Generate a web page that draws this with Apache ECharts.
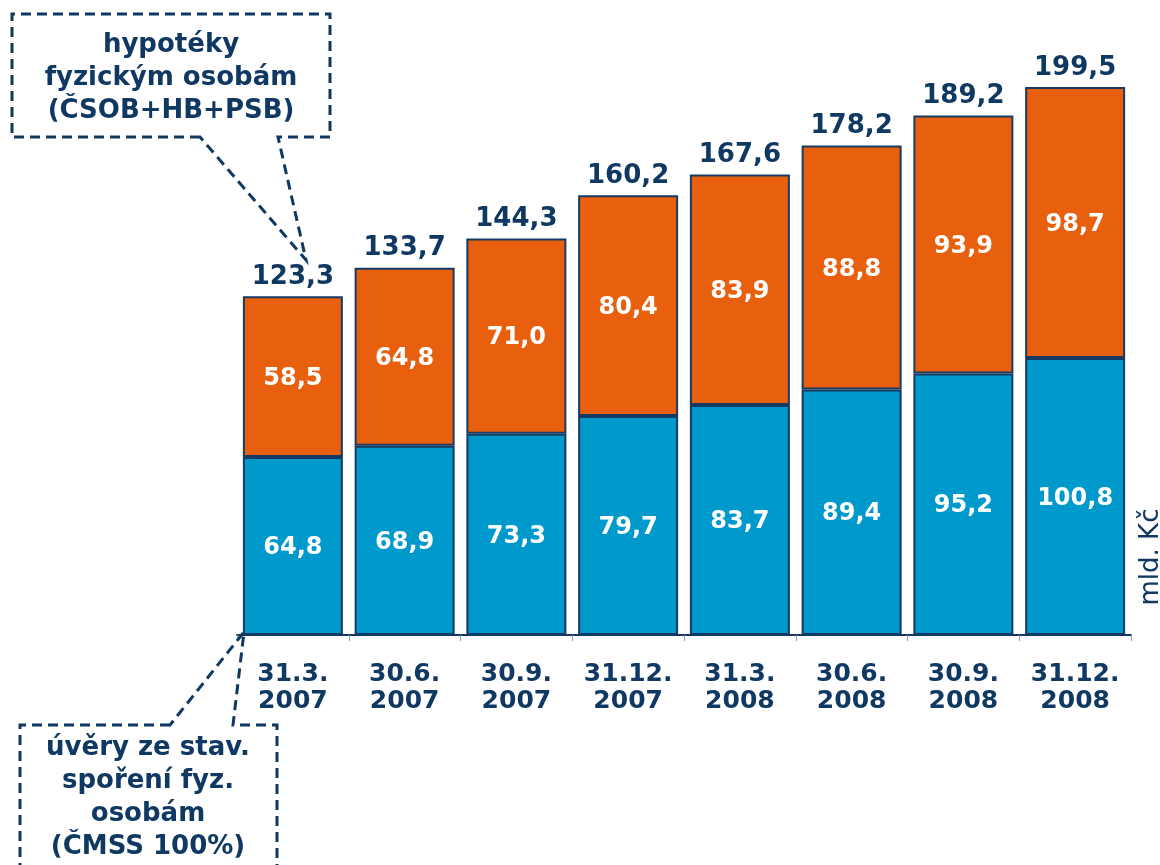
<!DOCTYPE html>
<html>
<head>
<meta charset="utf-8">
<script src="https://cdn.jsdelivr.net/npm/echarts@6/dist/echarts.min.js"></script>
<style>
  html, body { margin: 0; padding: 0; background: #ffffff; }
  #chart { width: 1160px; height: 865px; }
</style>
</head>
<body>
<div id="chart"></div>
<script>
// Quarter-end dates (two-line labels)
const categories = ['31.3.\n2007', '30.6.\n2007', '30.9.\n2007', '31.12.\n2007',
                    '31.3.\n2008', '30.6.\n2008', '30.9.\n2008', '31.12.\n2008'];
// Building-savings loans to individuals (ČMSS 100%), bn CZK
const buildingSavings = [64.8, 68.9, 73.3, 79.7, 83.7, 89.4, 95.2, 100.8];
// Mortgages to individuals (ČSOB+HB+PSB), bn CZK
const mortgages = [58.5, 64.8, 71.0, 80.4, 83.9, 88.8, 93.9, 98.7];
// Reported totals
const totals = [123.3, 133.7, 144.3, 160.2, 167.6, 178.2, 189.2, 199.5];

const NAVY = '#0f3862';
const BLUE = '#0099cc';
const ORANGE = '#e8600e';
const BORDER = '#173a63';
const FONT = '"DejaVu Sans", Verdana, sans-serif';

const fmt = v => v.toFixed(1).replace('.', ',');

const chart = echarts.init(document.getElementById('chart'), null, { renderer: 'canvas' });

chart.setOption({
  animation: false,
  backgroundColor: '#ffffff',
  textStyle: { fontFamily: FONT },
  grid: { left: 237, right: 29, top: 85.6, bottom: 230, containLabel: false },
  xAxis: {
    type: 'category',
    data: categories,
    z: 5,
    axisLine: { show: true, lineStyle: { color: '#123a64', width: 2 } },
    axisTick: { show: true, length: 6, lineStyle: { color: '#8a99ad', width: 1 } },
    axisLabel: {
      margin: 26,
      color: NAVY,
      fontFamily: FONT,
      fontWeight: 'bold',
      fontSize: 25,
      lineHeight: 27,
      interval: 0
    }
  },
  yAxis: {
    type: 'value',
    min: 0,
    max: 200,
    show: false,
    splitLine: { show: false }
  },
  series: [
    {
      name: 'úvěry ze stav. spoření',
      type: 'bar',
      stack: 'loans',
      barWidth: 100,
      data: buildingSavings,
      itemStyle: { color: BLUE, borderColor: BORDER, borderWidth: 2 },
      label: {
        show: true, position: 'inside', offset: [0, 2], color: '#ffffff',
        fontFamily: FONT, fontWeight: 'bold', fontSize: 24,
        formatter: p => fmt(p.value)
      }
    },
    {
      name: 'hypotéky',
      type: 'bar',
      stack: 'loans',
      barWidth: 100,
      data: mortgages,
      itemStyle: { color: ORANGE, borderColor: BORDER, borderWidth: 2 },
      label: {
        show: true, position: 'inside', offset: [0, 2], color: '#ffffff',
        fontFamily: FONT, fontWeight: 'bold', fontSize: 24,
        formatter: p => fmt(p.value)
      }
    },
    {
      name: 'celkem',
      type: 'bar',
      barWidth: 100,
      barGap: '-100%',
      silent: true,
      data: totals,
      itemStyle: { color: 'rgba(0,0,0,0)' },
      label: {
        show: true, position: 'top', distance: 6, color: NAVY,
        fontFamily: FONT, fontWeight: 'bold', fontSize: 26,
        formatter: p => fmt(p.value)
      }
    }
  ],
  graphic: [
    // callout for mortgages
    {
      type: 'polygon',
      shape: { points: [[200, 137], [12, 137], [12, 14], [330, 14], [330, 137], [278, 137], [306, 260]] },
      style: { fill: 'none', stroke: NAVY, lineWidth: 3, lineDash: [10, 6] },
      z: 10
    },
    {
      type: 'text',
      x: 171, y: 29,
      style: {
        text: 'hypotéky\nfyzickým osobám\n(ČSOB+HB+PSB)',
        textAlign: 'center', textVerticalAlign: 'top',
        font: 'bold 26px ' + FONT, lineHeight: 33, fill: NAVY
      },
      z: 10
    },
    // callout for building-savings loans
    {
      type: 'polygon',
      shape: { points: [[170, 725], [20, 725], [20, 900], [277, 900], [277, 725], [233, 725], [244, 632]] },
      style: { fill: 'none', stroke: NAVY, lineWidth: 3, lineDash: [10, 6] },
      z: 10
    },
    {
      type: 'text',
      x: 148, y: 732,
      style: {
        text: 'úvěry ze stav.\nspoření fyz.\nosobám\n(ČMSS 100%)',
        textAlign: 'center', textVerticalAlign: 'top',
        font: 'bold 26px ' + FONT, lineHeight: 33, fill: NAVY
      },
      z: 10
    },
    // unit
    {
      type: 'text',
      x: 1151, y: 557,
      rotation: Math.PI / 2,
      style: {
        text: 'mld. Kč',
        textAlign: 'center', textVerticalAlign: 'middle',
        font: '26px ' + FONT, fill: NAVY
      }
    }
  ]
});
</script>
</body>
</html>
